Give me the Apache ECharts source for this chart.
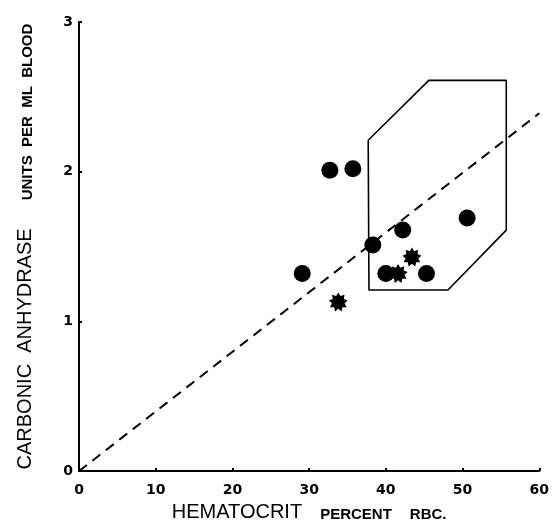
<!DOCTYPE html>
<html><head><meta charset="utf-8">
<script src="https://cdn.jsdelivr.net/npm/echarts@6/dist/echarts.min.js"></script>
<style>html,body{margin:0;padding:0;background:#fff}#c{width:552px;height:527px}</style>
</head><body><div id="c"></div>
<script>
const xTicks = [0,10,20,30,40,50,60];
const yTicks = [0,1,2,3];
const circles = [[29.1,1.32],[32.7,2.01],[35.7,2.02],[38.3,1.51],[42.2,1.61],[40.0,1.32],[45.3,1.32],[50.6,1.69]];
const stars = [[33.8,1.13],[41.6,1.32],[43.4,1.43]];
const region = [[37.7,2.21],[45.6,2.61],[55.7,2.61],[55.7,1.61],[48.1,1.21],[37.8,1.21],[37.7,2.21]];
const trend = [[0,0],[60,2.39]];

function starPath(n, r1, r2){
  let d='';
  for(let i=0;i<2*n;i++){
    const r = i%2===0 ? r1 : r2;
    const a = Math.PI*i/n - Math.PI/2;
    d += (i===0?'M':'L') + (r*Math.cos(a)).toFixed(2) + ' ' + (r*Math.sin(a)).toFixed(2) + ' ';
  }
  return 'path://' + d + 'Z';
}
const chart = echarts.init(document.getElementById('c'));
const font = '"Liberation Sans", Arial, sans-serif';
const tickFont = '"DejaVu Sans", sans-serif';
const rich = {
  a:{fontFamily:font,fontSize:20,color:'#000',verticalAlign:'bottom'},
  b:{fontFamily:font,fontSize:15,fontWeight:'bold',color:'#000',verticalAlign:'bottom'},
  g:{width:18},
  h:{width:28}
};
chart.setOption({
  animation:false,
  grid:{left:79,right:11,top:22,bottom:53},
  xAxis:{type:'value',min:0,max:60,interval:10,
    axisLine:{onZero:false,lineStyle:{color:'#000',width:2}},
    axisTick:{show:true,inside:true,length:3,lineStyle:{color:'#000',width:2}},
    splitLine:{show:false},
    axisLabel:{color:'#000',fontFamily:tickFont,fontWeight:'bold',fontSize:14,margin:12},
    name:'{a|HEMATOCRIT}{g|}{b|PERCENT}{g|}{b|RBC.}',nameLocation:'middle',nameGap:30,
    nameTextStyle:{rich:rich}
  },
  yAxis:{type:'value',min:0,max:3,interval:1,
    axisLine:{onZero:false,lineStyle:{color:'#000',width:2}},
    axisTick:{show:true,inside:true,length:3,lineStyle:{color:'#000',width:2}},
    splitLine:{show:false},
    axisLabel:{color:'#000',fontFamily:tickFont,fontWeight:'bold',fontSize:14,margin:6},
    name:'{a|CARBONIC  ANHYDRASE}{h|}{b|UNITS  PER  ML  BLOOD}',nameLocation:'middle',nameGap:44,nameRotate:90,
    nameTextStyle:{rich:rich}
  },
  series:[
    {type:'line',data:trend,symbol:'none',silent:true,lineStyle:{color:'#000',width:2,type:[10,7]}},
    {type:'line',data:region,symbol:'none',silent:true,lineStyle:{color:'#000',width:1.6}},
    {type:'scatter',data:circles,symbol:'circle',symbolSize:17,itemStyle:{color:'#000',opacity:1}},
    {type:'scatter',data:stars,symbol:starPath(9,9,6),symbolSize:19,itemStyle:{color:'#000',opacity:1}}
  ]
});
</script></body></html>
